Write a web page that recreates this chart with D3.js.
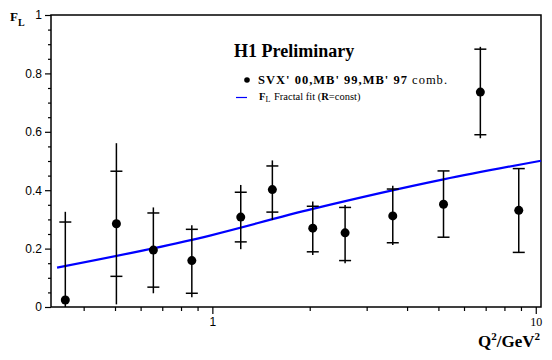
<!DOCTYPE html>
<html><head><meta charset="utf-8">
<script src="https://cdn.jsdelivr.net/npm/d3@7"></script>
<style>body{margin:0;background:#fff}svg{display:block}</style>
</head><body>
<svg id="c" width="552" height="360"></svg>
<script>
const q2 = [0.351, 0.505, 0.657, 0.864, 1.224, 1.533, 2.044, 2.573, 3.613, 5.185, 6.74, 8.86];
const fl = [0.024, 0.285, 0.195, 0.159, 0.308, 0.402, 0.270, 0.254, 0.312, 0.352, 0.736, 0.331];
const statLow  = [-0.243, 0.105, 0.068, 0.047, 0.223, 0.325, 0.189, 0.159, 0.220, 0.239, 0.590, 0.187];
const statHigh = [0.291, 0.465, 0.322, 0.266, 0.393, 0.483, 0.345, 0.341, 0.404, 0.466, 0.883, 0.474];
const totLow   = [-0.278, 0.009, 0.047, 0.033, 0.198, 0.298, 0.178, 0.150, 0.212, 0.239, 0.578, 0.187];
const totHigh  = [0.326, 0.561, 0.341, 0.280, 0.418, 0.502, 0.361, 0.349, 0.415, 0.466, 0.891, 0.474];
const fitQ2 = [0.331, 0.864, 2.044, 5.185, 10.38];
const fitFL = [0.135, 0.230, 0.336, 0.437, 0.501];
const yMajor = [0, 0.2, 0.4, 0.6, 0.8, 1];
const yMinor = [0.05,0.1,0.15,0.25,0.3,0.35,0.45,0.5,0.55,0.65,0.7,0.75,0.85,0.9,0.95];
const xMajor = [1, 10];
const xMinor = [0.4,0.5,0.6,0.7,0.8,0.9,2,3,4,5,6,7,8,9];

const L=51,R=541,T=15,B=307;
const svg=d3.select("#c");
const x=d3.scaleLog().domain([0.317,10.38]).range([L,R]);
const y=d3.scaleLinear().domain([0,1]).range([B,T]);
const yc=v=>y(Math.max(0,v));

// frame
svg.append("rect").attr("x",L).attr("y",T).attr("width",R-L).attr("height",B-T)
  .attr("fill","none").attr("stroke","#000").attr("stroke-width",1.5);

// y axis
const ya=svg.append("g").attr("transform",`translate(${L},0)`);
ya.call(d3.axisLeft(y).tickValues(yMajor).tickSize(6).tickFormat(d3.format("~g")))
  .call(g=>g.select(".domain").remove())
  .call(g=>g.selectAll("text").attr("font-family","Liberation Sans, Arial, sans-serif").attr("font-size",12).attr("fill","#000").attr("x",-9))
  .call(g=>g.selectAll("line").attr("stroke","#000").attr("stroke-width",1.2));
ya.append("g").call(d3.axisLeft(y).tickValues(yMinor).tickSize(3).tickFormat(""))
  .call(g=>g.select(".domain").remove())
  .call(g=>g.selectAll("line").attr("stroke","#000").attr("stroke-width",1.2));

// x axis
const xa=svg.append("g").attr("transform",`translate(0,${B})`);
xa.call(d3.axisBottom(x).tickValues(xMajor).tickSize(7).tickFormat(d3.format("~g")))
  .call(g=>g.select(".domain").remove())
  .call(g=>g.selectAll("line").attr("stroke","#000").attr("stroke-width",1.2))
  .call(g=>g.selectAll("text").attr("fill","#000").attr("font-size",12).attr("y",10)
     .attr("font-family",d=>d===1?"Liberation Sans, Arial, sans-serif":"Liberation Serif, Times New Roman, serif"));
xa.append("g").call(d3.axisBottom(x).tickValues(xMinor).tickSize(4).tickFormat(""))
  .call(g=>g.select(".domain").remove())
  .call(g=>g.selectAll("line").attr("stroke","#000").attr("stroke-width",1.2));

// fit line
const fit=fitQ2.map((q,i)=>[q,fitFL[i]]);
svg.append("path").datum(fit).attr("fill","none").attr("stroke","#0000ff").attr("stroke-width",2.2)
  .attr("d",d3.line().x(d=>x(d[0])).y(d=>y(d[1])).curve(d3.curveMonotoneX));

// error bars
const pts=q2.map((q,i)=>({q,v:fl[i],sl:statLow[i],sh:statHigh[i],tl:totLow[i],th:totHigh[i]}));
const eg=svg.append("g").attr("stroke","#000").attr("stroke-width",1.5);
eg.selectAll(".e").data(pts).join("line").attr("x1",d=>x(d.q)).attr("x2",d=>x(d.q))
  .attr("y1",d=>yc(d.tl)).attr("y2",d=>yc(d.th));
const caps=[];
pts.forEach(d=>{ if(d.sh>0) caps.push([d.q,d.sh]); if(d.sl>0) caps.push([d.q,d.sl]); });
eg.selectAll(".c").data(caps).join("line").attr("x1",d=>x(d[0])-6).attr("x2",d=>x(d[0])+6)
  .attr("y1",d=>y(d[1])).attr("y2",d=>y(d[1]));
svg.append("g").selectAll("circle").data(pts).join("circle")
  .attr("cx",d=>x(d.q)).attr("cy",d=>y(d.v)).attr("r",4.5).attr("fill","#000");

// labels
const serif="Liberation Serif, Times New Roman, serif";
const fl_lab=svg.append("text").attr("x",10).attr("y",21).attr("font-family",serif).attr("font-weight","bold").attr("font-size",13);
fl_lab.append("tspan").text("F");
fl_lab.append("tspan").attr("dy",5).attr("font-size",10).text("L");

const xl=svg.append("text").attr("x",540).attr("y",347).attr("text-anchor","end").attr("font-family",serif).attr("font-weight","bold").attr("font-size",17);
xl.append("tspan").text("Q");
xl.append("tspan").attr("dy",-7).attr("font-size",11).text("2");
xl.append("tspan").attr("dy",7).text("/GeV");
xl.append("tspan").attr("dy",-7).attr("font-size",11).text("2");

svg.append("text").attr("x",234).attr("y",57).attr("font-family",serif).attr("font-weight","bold").attr("font-size",18).text("H1 Preliminary");

// legend
svg.append("circle").attr("cx",247).attr("cy",80).attr("r",2.8).attr("fill","#000");
const l1=svg.append("text").attr("x",258).attr("y",84).attr("font-family",serif).attr("font-size",12.5).attr("textLength",189).attr("lengthAdjust","spacing");
l1.append("tspan").attr("font-weight","bold").text("SVX' 00,MB' 99,MB' 97");
l1.append("tspan").text(" comb.");
svg.append("line").attr("x1",236).attr("x2",247).attr("y1",97.5).attr("y2",97.5).attr("stroke","#0000ff").attr("stroke-width",1.2);
const l2=svg.append("text").attr("x",259).attr("y",100).attr("font-family",serif).attr("font-size",10.5);
l2.append("tspan").attr("font-weight","bold").text("F");
l2.append("tspan").attr("dy",2).attr("font-size",8).text("L");
l2.append("tspan").attr("dy",-2).attr("x",274).text("Fractal fit (");
l2.append("tspan").attr("font-weight","bold").text("R");
l2.append("tspan").text("=const)");
</script>
</body></html>
